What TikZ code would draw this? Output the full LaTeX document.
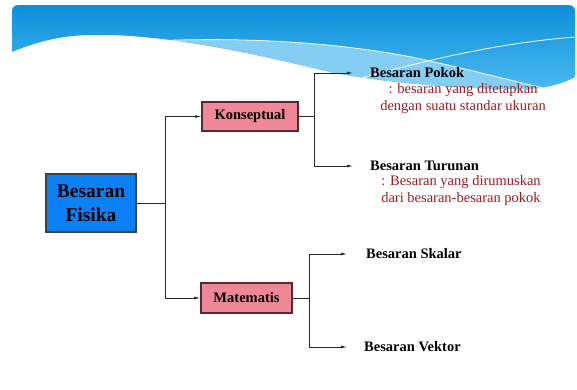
\documentclass[tikz,border=0pt]{standalone}
\usepackage{fontspec}
\setmainfont{Liberation Serif}
\usetikzlibrary{arrows.meta}
\definecolor{fisika}{RGB}{12,128,245}
\definecolor{pinkbox}{RGB}{238,136,150}
\definecolor{pinkedge}{RGB}{90,40,48}
\definecolor{desc}{RGB}{158,26,30}
\definecolor{hdtop}{RGB}{10,143,220}
\definecolor{hdbot}{RGB}{80,188,240}
\definecolor{band}{RGB}{132,205,243}
\begin{document}
\begin{tikzpicture}[x=1pt,y=-1pt,
  fisbox/.style={draw=black!75, line width=1.5pt, fill=fisika, minimum width=90pt, minimum height=58pt,
    align=center, inner sep=0pt, font=\fontsize{19.5}{24}\selectfont\bfseries},
  pinkbox/.style={draw=pinkedge, line width=1.5pt, fill=pinkbox, inner sep=0pt,
    font=\fontsize{14.5}{17}\selectfont\bfseries},
  lbl/.style={anchor=west, inner xsep=17pt, inner ysep=0pt, font=\fontsize{14.5}{17}\selectfont\bfseries},
  desctext/.style={align=center, text=desc, inner sep=0pt, font=\fontsize{14.5}{17}\selectfont},
  conn/.style={draw=black!85, line width=0.8pt},
  arr/.style={conn, -{Latex[length=6pt,width=3pt]}},
  wline/.style={draw=white, line width=0.8pt}
]
\useasboundingbox (0,0) rectangle (577,389);
% header: blue area above the white wave
\begin{scope}
  \clip (12,52) .. controls (50,36) and (80,34) .. (110,35)
     .. controls (180,37) and (260,55) .. (330,72)
     .. controls (400,86) and (500,91) .. (540,88)
     .. controls (555,86) and (568,81) .. (575,77)
     [rounded corners=6pt] -- (575,5) -- (12,5) [sharp corners] -- cycle;
  \shade[top color=hdtop, bottom color=hdbot] (10,3) rectangle (578,96);
  % light band below L1
  \fill[band] (150,41) .. controls (260,36) and (360,45) .. (430,61)
     .. controls (480,72) and (520,83) .. (548,89) -- (580,80) -- (580,100) -- (150,100) -- cycle;
  \draw[wline] (150,41) .. controls (260,36) and (360,45) .. (430,61)
     .. controls (480,72) and (520,83) .. (548,89);
  \draw[wline] (355,80) .. controls (415,63) and (495,43) .. (576,37);
\end{scope}
% nodes
\node[fisbox] (fisika) at (91,203) {Besaran\\Fisika};
\node[pinkbox, minimum width=96pt, minimum height=29pt] (konsep) at (250,116.5) {Konseptual};
\node[pinkbox, minimum width=91pt, minimum height=30pt] (mat) at (246.5,298) {Matematis};
\node[lbl] (pokok) at (353,73) {Besaran Pokok};
\node[lbl] (turunan) at (353,166) {Besaran Turunan};
\node[lbl, inner xsep=19pt] (skalar) at (347,254) {Besaran Skalar};
\node[lbl, inner xsep=17pt] (vektor) at (347,347) {Besaran Vektor};
\node[desctext] (dpokok) at (463,98.5) {: besaran yang ditetapkan\\dengan suatu standar ukuran};
\node[desctext] (dturunan) at (461,190.5) {: Besaran yang dirumuskan\\dari besaran-besaran pokok};
% junctions
\coordinate (fj) at (165,203);
\coordinate (kj) at (314,116.5);
\coordinate (mj) at (309,298);
\draw[conn] (fisika.east) -- (fj);
\draw[arr] (fj) |- (konsep.west);
\draw[arr] (fj) |- (mat.west);
\draw[conn] (konsep.east) -- (kj);
\draw[arr] (kj) |- (pokok.west);
\draw[arr] (kj) |- (turunan.west);
\draw[conn] (mat.east) -- (mj);
\draw[arr] (mj) |- (skalar.west);
\draw[arr] (mj) |- (vektor.west);
\end{tikzpicture}
\end{document}
